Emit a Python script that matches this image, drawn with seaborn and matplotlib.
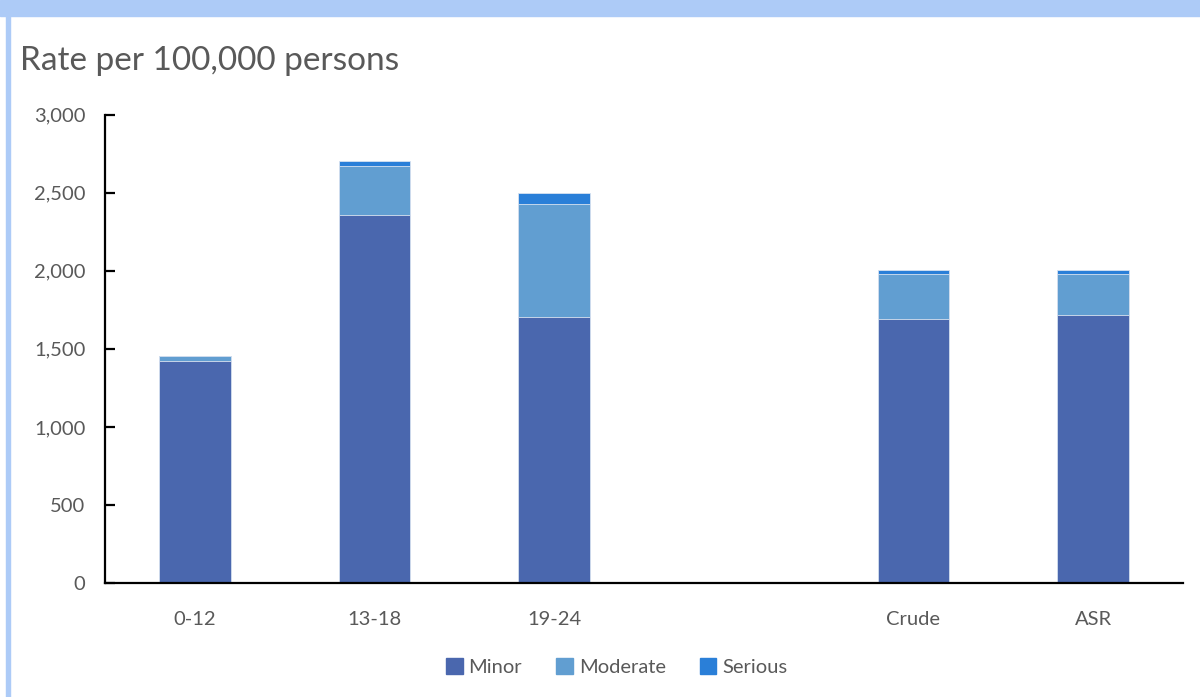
import pandas as pd
import matplotlib.pyplot as plt
import seaborn as sns
from matplotlib.patches import Patch, Rectangle
from matplotlib.ticker import FuncFormatter

# values
groups = ["0-12", "13-18", "19-24", "", "Crude", "ASR"]
minor = [1420, 2360, 1705, 0, 1694, 1717]
moderate = [32, 312, 725, 0, 285, 262]
serious = [3, 28, 70, 0, 25, 25]

c_minor = "#4A67AE"
c_moderate = "#619ED1"
c_serious = "#2A7FD8"
grey = "#595959"

sns.set_style("ticks")
plt.rcParams["font.family"] = ["Lato", "DejaVu Sans"]

df = pd.DataFrame({"Group": groups, "Minor": minor,
                   "Moderate": moderate, "Serious": serious})
df["lvl2"] = df["Minor"] + df["Moderate"]
df["lvl3"] = df["lvl2"] + df["Serious"]

fig = plt.figure(figsize=(12, 6.97), dpi=100)
ax = fig.add_axes([0.0875, 0.1635, 0.8983, 0.672])

# stacked by overlap: tallest first
for col, colour in [("lvl3", c_serious), ("lvl2", c_moderate), ("Minor", c_minor)]:
    sns.barplot(data=df, x="Group", y=col, order=groups, color=colour,
                width=0.4, saturation=1, edgecolor="#d8e2f0", linewidth=0.6, ax=ax)

ax.set_xlim(-0.5, len(groups) - 0.5)
ax.set_ylim(0, 3000)
ax.set_yticks(range(0, 3001, 500))
ax.yaxis.set_major_formatter(FuncFormatter(lambda v, p: f"{int(v):,}"))
ax.set_xlabel("")
ax.set_ylabel("")
sns.despine(ax=ax)
for s in ["left", "bottom"]:
    ax.spines[s].set_linewidth(1.6)
    ax.spines[s].set_color("black")
ax.tick_params(axis="y", direction="in", length=7, width=1.6, colors="black",
               labelcolor=grey, labelsize=14.5, pad=14)
ax.tick_params(axis="x", length=0, labelcolor=grey, labelsize=14.5, pad=20)

fig.text(20 / 1200, 1 - 61 / 697, "Rate per 100,000 persons", fontsize=24,
         color=grey, va="center", ha="left")

# light blue frame of the original slide
fig.add_artist(Rectangle((0, 1 - 16 / 697), 1, 16 / 697, transform=fig.transFigure,
                         color="#ADCBF7", zorder=0))
fig.add_artist(Rectangle((6 / 1200, 0), 4 / 1200, 1, transform=fig.transFigure,
                         color="#ADCBF7", zorder=0))

handles = [Patch(color=c_minor, label="Minor"),
           Patch(color=c_moderate, label="Moderate"),
           Patch(color=c_serious, label="Serious")]
leg = fig.legend(handles=handles, loc="center", bbox_to_anchor=(0.514, 1 - 667 / 697),
                 ncol=3, frameon=False, fontsize=14.5, handlelength=0.8, handleheight=0.8,
                 handletextpad=0.3, columnspacing=1.7)
for t in leg.get_texts():
    t.set_color(grey)

fig.savefig("out.png", dpi=100)
